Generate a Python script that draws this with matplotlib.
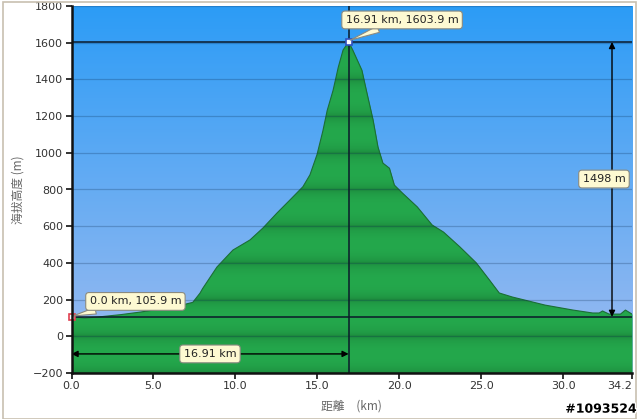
import numpy as np
import matplotlib
matplotlib.use("Agg")
import matplotlib.pyplot as plt
from matplotlib.patches import Rectangle
import matplotlib.patheffects as pe

# ---- data ----
dist_km = [0.0, 0.8, 1.5, 3.0, 4.2, 5.5, 6.5, 7.4, 7.84, 8.0, 8.88, 9.85, 10.89,
           11.68, 12.54, 13.33, 14.12, 14.55, 14.98, 15.34, 15.6, 15.96, 16.28,
           16.57, 16.91, 17.16, 17.72, 18.03, 18.4, 18.7, 19.0, 19.4, 19.7, 20.2,
           21.1, 22.0, 22.7, 23.7, 24.7, 25.5, 26.1, 26.9, 28.9, 30.6, 31.8, 32.2,
           32.4, 32.8, 33.5, 33.8, 34.2]
elev_m = [105.9, 100, 104, 118, 132, 150, 165, 185, 235, 260, 378, 470, 525,
          590, 672, 743, 815, 880, 990, 1120, 1230, 1340, 1467,
          1560, 1603.9, 1560, 1450, 1325, 1180, 1032, 944, 916, 824, 780,
          705, 607, 568, 487, 400, 307, 236, 214, 170, 143, 127, 127,
          138, 121, 121, 143, 121]
peak_km, peak_m = 16.91, 1603.9
start_km, start_m = 0.0, 105.9
climb_m = 1498
x_ticks = [0.0, 5.0, 10.0, 15.0, 20.0, 25.0, 30.0, 34.2]
x_tick_labels = ["0.0", "5.0", "10.0", "15.0", "20.0", "25.0", "30.0", "34.2"]
y_ticks = [-200, 0, 200, 400, 600, 800, 1000, 1200, 1400, 1600, 1800]
peak_label = "16.91 km, 1603.9 m"
start_label = "0.0 km, 105.9 m"
dist_label = "16.91 km"
climb_label = "1498 m"
xlabel = "距離　(km)"
ylabel = "海拔高度 (m)"
watermark = "#1093524"

XMIN, XMAX, YMIN, YMAX = 0, 34.2, -200, 1800

fig = plt.figure(figsize=(6.4, 4.19), dpi=100)
ax = fig.add_axes([71.5 / 640, 46 / 419, (632 - 71.5) / 640, (373 - 6) / 419])
ax.set_xlim(XMIN, XMAX)
ax.set_ylim(YMIN, YMAX)

# sky gradient
top = np.array([44, 156, 246]) / 255
bot = np.array([160, 188, 240]) / 255
t = np.linspace(0, 1, 256)[:, None]
sky = (top * (1 - t) + bot * t)[:, None, :]
sky = np.repeat(sky, 2, axis=1)
ax.imshow(sky, extent=[XMIN, XMAX, YMIN, YMAX], aspect="auto", origin="upper", zorder=0)

# green banded fill
poly = ax.fill_between(dist_km, elev_m, YMIN, color="#22a24a", lw=0, zorder=1)
yy = np.linspace(YMAX, YMIN, 800)
phase = ((yy - YMIN) % 200) / 200.0
shade = np.sin(np.pi * phase) ** 0.35
light = np.array([36, 168, 76]) / 255
dark = np.array([26, 128, 56]) / 255
g = dark[None, :] * (1 - shade[:, None]) + light[None, :] * shade[:, None]
g = np.repeat(g[:, None, :], 2, axis=1)
im = ax.imshow(g, extent=[XMIN, XMAX, YMIN, YMAX], aspect="auto", origin="upper", zorder=2)
im.set_clip_path(poly.get_paths()[0], transform=ax.transData)
ax.plot(dist_km, elev_m, color="#1c6e36", lw=0.8, zorder=3)

# gridlines
for yv in y_ticks:
    ax.axhline(yv, color="#0a2a50", alpha=0.25, lw=0.9, zorder=4)

# reference lines
ax.axhline(peak_m, color="#0b1a2a", lw=1.1, zorder=5)
ax.axhline(start_m, color="#0b1a2a", lw=1.1, zorder=5)
ax.axvline(peak_km, color="#0b1a2a", lw=1.1, zorder=5)

# markers
ax.plot([peak_km], [peak_m], marker="s", ms=5, mfc="white", mec="#3050c0", mew=1.2, zorder=8, clip_on=False)
ax.plot([start_km], [start_m], marker="s", ms=5, mfc="white", mec="#e04050", mew=1.2, zorder=8, clip_on=False)

# dimension arrows
arrow_y = -96
ax.annotate("", xy=(XMIN, arrow_y), xytext=(peak_km, arrow_y),
            arrowprops=dict(arrowstyle="<|-|>", color="black", lw=1, mutation_scale=9,
                            shrinkA=0, shrinkB=0), zorder=6)
arrow_x = 32.98
ax.annotate("", xy=(arrow_x, start_m), xytext=(arrow_x, peak_m),
            arrowprops=dict(arrowstyle="<|-|>", color="black", lw=1, mutation_scale=9,
                            shrinkA=0, shrinkB=0), zorder=6)

box = dict(boxstyle="round,pad=0.35,rounding_size=0.3", fc="#fdf9d2", ec="#8a8a80", lw=0.8)
font = dict(fontsize=8, color="#222222", family="DejaVu Sans")

ax.annotate(peak_label, xy=(peak_km + 0.1, peak_m + 10), xytext=(20.17, 1724),
            ha="center", va="center", bbox=box, zorder=9, annotation_clip=False,
            arrowprops=dict(arrowstyle="wedge,tail_width=0.6", fc="#fdf9d2", ec="#8a8a80", lw=0.8,
                            shrinkA=0, shrinkB=0), **font)
ax.annotate(start_label, xy=(start_km + 0.1, start_m + 5), xytext=(3.9, 190),
            ha="center", va="center", bbox=box, zorder=9, annotation_clip=False,
            arrowprops=dict(arrowstyle="wedge,tail_width=0.6", fc="#fdf9d2", ec="#8a8a80", lw=0.8,
                            shrinkA=0, shrinkB=0), **font)
ax.text(8.45, arrow_y, dist_label, ha="center", va="center", bbox=box, zorder=9, **font)
ax.text(32.49, 857, climb_label, ha="center", va="center", bbox=box, zorder=9, **font)

# axes styling
for s in ["top", "right"]:
    ax.spines[s].set_visible(False)
for s in ["left", "bottom"]:
    ax.spines[s].set_linewidth(1.8)
    ax.spines[s].set_color("#111111")
    ax.spines[s].set_zorder(10)
ax.set_xticks(x_ticks)
ax.set_xticklabels(x_tick_labels)
ax.set_yticks(y_ticks)
ax.tick_params(direction="out", length=4, width=1.2, colors="#111111", labelsize=8,
               labelcolor="#333333", pad=2)
ax.get_xticklabels()[-1].set_horizontalalignment("right")

ax.set_xlabel(xlabel, fontsize=8.5, color="#666666", family=["Noto Sans CJK TC", "DejaVu Sans"],
              labelpad=6)
ax.set_ylabel(ylabel, fontsize=8.5, color="#666666", family=["Noto Sans CJK TC", "DejaVu Sans"],
              labelpad=6)

# figure frame
fig.patches.append(Rectangle((3 / 640, 0), 633 / 640, 1 - 2 / 419, transform=fig.transFigure,
                             fill=False, ec="#c8c0b0", lw=1.2))

fig.text(0.995, 0.008, watermark, ha="right", va="bottom", fontsize=9, fontweight="bold",
         color="black", path_effects=[pe.withStroke(linewidth=2, foreground="white")])

fig.savefig("out.png", dpi=100)
